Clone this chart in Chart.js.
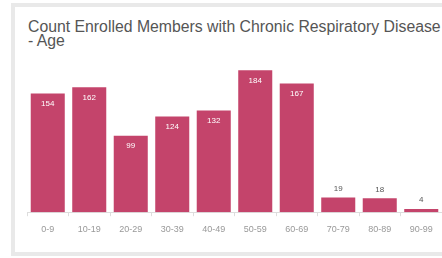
<!DOCTYPE html>
<html>
<head>
<meta charset="utf-8">
<script src="https://cdn.jsdelivr.net/npm/chart.js@4"></script>
<style>
	html, body { margin: 0; padding: 0; background: #fff; overflow: hidden; }
	.card {
		position: absolute;
		left: 11px;
		top: 3px;
		width: 460px;
		height: 245px;
		border: 4px solid #e9e9e9;
		background: #fff;
	}
	.title {
		position: absolute;
		left: 28px;
		top: 20px;
		font-family: 'Liberation Sans', Arial, sans-serif;
		font-size: 15.8px;
		line-height: 13.5px;
		color: #555;
		white-space: nowrap;
	}
	#chart { position: absolute; left: 0; top: 0; }
</style>
</head>
<body>
<div class="card"></div>
<div class="title">Count Enrolled Members with Chronic Respiratory Disease by<br>- Age</div>
<canvas id="chart" width="442" height="258"></canvas>
<script>
const ageGroups = ['0-9', '10-19', '20-29', '30-39', '40-49', '50-59', '60-69', '70-79', '80-89', '90-99'];
const members = [154, 162, 99, 124, 132, 184, 167, 19, 18, 4];

const barColor = '#c4446b';

// value labels: white inside tall bars, gray above short ones
const valueLabels = {
	id: 'valueLabels',
	afterDatasetsDraw(chart) {
		const { ctx } = chart;
		const meta = chart.getDatasetMeta(0);
		ctx.save();
		ctx.font = '8px "Liberation Sans", Arial, sans-serif';
		ctx.textAlign = 'center';
		ctx.textBaseline = 'middle';
		meta.data.forEach((bar, i) => {
			const value = members[i];
			if (value > 50) {
				ctx.fillStyle = '#fff';
				ctx.fillText(value, bar.x, bar.y + 10);
			} else {
				ctx.fillStyle = '#555';
				ctx.fillText(value, bar.x, bar.y - 9);
			}
		});
		ctx.restore();
	},
};

const ctx = document.getElementById('chart').getContext('2d');
new Chart(ctx, {
	type: 'bar',
	data: {
		labels: ageGroups,
		datasets: [
			{
				data: members,
				backgroundColor: barColor,
				categoryPercentage: 1,
				barPercentage: 0.82,
			},
		],
	},
	options: {
		responsive: false,
		animation: false,
		layout: {
			padding: { left: 27, right: 0, top: 58, bottom: 15 },
		},
		plugins: {
			legend: { display: false },
			tooltip: { enabled: false },
		},
		scales: {
			x: {
				grid: {
					drawOnChartArea: false,
					tickLength: 4,
					color: '#ddd',
				},
				border: { color: '#ddd' },
				ticks: {
					color: '#999',
					padding: 8,
					font: { family: 'Liberation Sans', size: 9 },
				},
			},
			y: {
				display: false,
				min: 0,
				max: 200,
			},
		},
	},
	plugins: [valueLabels],
});
</script>
</body>
</html>
